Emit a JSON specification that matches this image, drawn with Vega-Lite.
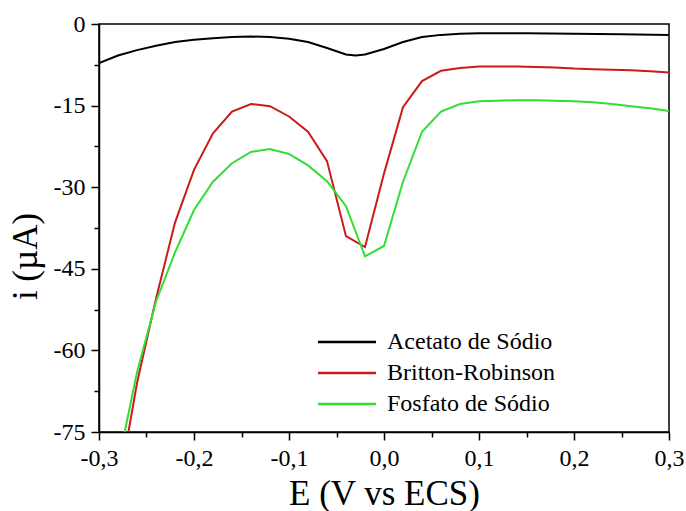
{
  "$schema": "https://vega.github.io/schema/vega-lite/v6.json",
  "width": 570,
  "height": 408,
  "autosize": "none",
  "padding": {"left": 99, "top": 24, "right": 17, "bottom": 79},
  "background": "white",
  "config": {
    "view": {"stroke": "black", "strokeWidth": 1.5},
    "font": "Liberation Serif, Times New Roman, serif",
    "axis": {
      "domainColor": "black",
      "domainWidth": 1.5,
      "tickColor": "black",
      "tickWidth": 1.5,
      "grid": false,
      "labelFont": "Liberation Serif, Times New Roman, serif",
      "labelFontSize": 24,
      "labelColor": "black",
      "titleFont": "Liberation Serif, Times New Roman, serif",
      "titleFontSize": 35,
      "titleFontWeight": "normal",
      "titleColor": "black"
    },
    "legend": {
      "labelFont": "Liberation Serif, Times New Roman, serif"
    }
  },
  "data": {
    "values": [
      {"E": -0.30, "i": -7.2, "s": "Acetato de Sódio"},
      {"E": -0.28, "i": -5.8, "s": "Acetato de Sódio"},
      {"E": -0.26, "i": -4.8, "s": "Acetato de Sódio"},
      {"E": -0.24, "i": -4.0, "s": "Acetato de Sódio"},
      {"E": -0.22, "i": -3.3, "s": "Acetato de Sódio"},
      {"E": -0.20, "i": -2.9, "s": "Acetato de Sódio"},
      {"E": -0.18, "i": -2.6, "s": "Acetato de Sódio"},
      {"E": -0.16, "i": -2.4, "s": "Acetato de Sódio"},
      {"E": -0.14, "i": -2.3, "s": "Acetato de Sódio"},
      {"E": -0.12, "i": -2.4, "s": "Acetato de Sódio"},
      {"E": -0.10, "i": -2.7, "s": "Acetato de Sódio"},
      {"E": -0.08, "i": -3.3, "s": "Acetato de Sódio"},
      {"E": -0.06, "i": -4.4, "s": "Acetato de Sódio"},
      {"E": -0.04, "i": -5.6, "s": "Acetato de Sódio"},
      {"E": -0.03, "i": -5.8, "s": "Acetato de Sódio"},
      {"E": -0.02, "i": -5.6, "s": "Acetato de Sódio"},
      {"E": 0.00, "i": -4.6, "s": "Acetato de Sódio"},
      {"E": 0.02, "i": -3.3, "s": "Acetato de Sódio"},
      {"E": 0.04, "i": -2.4, "s": "Acetato de Sódio"},
      {"E": 0.06, "i": -2.0, "s": "Acetato de Sódio"},
      {"E": 0.08, "i": -1.8, "s": "Acetato de Sódio"},
      {"E": 0.10, "i": -1.7, "s": "Acetato de Sódio"},
      {"E": 0.15, "i": -1.7, "s": "Acetato de Sódio"},
      {"E": 0.20, "i": -1.8, "s": "Acetato de Sódio"},
      {"E": 0.25, "i": -1.9, "s": "Acetato de Sódio"},
      {"E": 0.30, "i": -2.0, "s": "Acetato de Sódio"},
      {"E": -0.28, "i": -86, "s": "Britton-Robinson"},
      {"E": -0.26, "i": -66, "s": "Britton-Robinson"},
      {"E": -0.24, "i": -50.5, "s": "Britton-Robinson"},
      {"E": -0.22, "i": -36.5, "s": "Britton-Robinson"},
      {"E": -0.20, "i": -26.8, "s": "Britton-Robinson"},
      {"E": -0.18, "i": -20.1, "s": "Britton-Robinson"},
      {"E": -0.16, "i": -16.1, "s": "Britton-Robinson"},
      {"E": -0.14, "i": -14.7, "s": "Britton-Robinson"},
      {"E": -0.12, "i": -15.1, "s": "Britton-Robinson"},
      {"E": -0.10, "i": -17.0, "s": "Britton-Robinson"},
      {"E": -0.08, "i": -19.8, "s": "Britton-Robinson"},
      {"E": -0.06, "i": -25.2, "s": "Britton-Robinson"},
      {"E": -0.04, "i": -39.0, "s": "Britton-Robinson"},
      {"E": -0.02, "i": -41.0, "s": "Britton-Robinson"},
      {"E": 0.00, "i": -27.5, "s": "Britton-Robinson"},
      {"E": 0.02, "i": -15.3, "s": "Britton-Robinson"},
      {"E": 0.04, "i": -10.5, "s": "Britton-Robinson"},
      {"E": 0.06, "i": -8.6, "s": "Britton-Robinson"},
      {"E": 0.08, "i": -8.1, "s": "Britton-Robinson"},
      {"E": 0.10, "i": -7.8, "s": "Britton-Robinson"},
      {"E": 0.12, "i": -7.8, "s": "Britton-Robinson"},
      {"E": 0.14, "i": -7.8, "s": "Britton-Robinson"},
      {"E": 0.16, "i": -7.9, "s": "Britton-Robinson"},
      {"E": 0.18, "i": -8.0, "s": "Britton-Robinson"},
      {"E": 0.20, "i": -8.2, "s": "Britton-Robinson"},
      {"E": 0.22, "i": -8.3, "s": "Britton-Robinson"},
      {"E": 0.24, "i": -8.4, "s": "Britton-Robinson"},
      {"E": 0.26, "i": -8.5, "s": "Britton-Robinson"},
      {"E": 0.28, "i": -8.7, "s": "Britton-Robinson"},
      {"E": 0.30, "i": -8.9, "s": "Britton-Robinson"},
      {"E": -0.28, "i": -81, "s": "Fosfato de Sódio"},
      {"E": -0.26, "i": -64, "s": "Fosfato de Sódio"},
      {"E": -0.24, "i": -51, "s": "Fosfato de Sódio"},
      {"E": -0.22, "i": -42, "s": "Fosfato de Sódio"},
      {"E": -0.20, "i": -34.2, "s": "Fosfato de Sódio"},
      {"E": -0.18, "i": -29.0, "s": "Fosfato de Sódio"},
      {"E": -0.16, "i": -25.6, "s": "Fosfato de Sódio"},
      {"E": -0.14, "i": -23.5, "s": "Fosfato de Sódio"},
      {"E": -0.12, "i": -23.0, "s": "Fosfato de Sódio"},
      {"E": -0.10, "i": -23.9, "s": "Fosfato de Sódio"},
      {"E": -0.08, "i": -26.0, "s": "Fosfato de Sódio"},
      {"E": -0.06, "i": -28.9, "s": "Fosfato de Sódio"},
      {"E": -0.04, "i": -33.5, "s": "Fosfato de Sódio"},
      {"E": -0.02, "i": -42.7, "s": "Fosfato de Sódio"},
      {"E": 0.00, "i": -40.8, "s": "Fosfato de Sódio"},
      {"E": 0.02, "i": -29.0, "s": "Fosfato de Sódio"},
      {"E": 0.04, "i": -19.8, "s": "Fosfato de Sódio"},
      {"E": 0.06, "i": -16.1, "s": "Fosfato de Sódio"},
      {"E": 0.08, "i": -14.7, "s": "Fosfato de Sódio"},
      {"E": 0.10, "i": -14.2, "s": "Fosfato de Sódio"},
      {"E": 0.12, "i": -14.1, "s": "Fosfato de Sódio"},
      {"E": 0.14, "i": -14.0, "s": "Fosfato de Sódio"},
      {"E": 0.16, "i": -14.0, "s": "Fosfato de Sódio"},
      {"E": 0.18, "i": -14.1, "s": "Fosfato de Sódio"},
      {"E": 0.20, "i": -14.2, "s": "Fosfato de Sódio"},
      {"E": 0.22, "i": -14.4, "s": "Fosfato de Sódio"},
      {"E": 0.24, "i": -14.7, "s": "Fosfato de Sódio"},
      {"E": 0.26, "i": -15.1, "s": "Fosfato de Sódio"},
      {"E": 0.28, "i": -15.5, "s": "Fosfato de Sódio"},
      {"E": 0.30, "i": -16.0, "s": "Fosfato de Sódio"}
    ]
  },
  "mark": {"type": "line", "strokeWidth": 2, "clip": true},
  "encoding": {
    "x": {
      "field": "E",
      "type": "quantitative",
      "scale": {"domain": [-0.3, 0.3], "nice": false, "zero": false},
      "axis": {
        "title": "E (V vs ECS)",
        "values": [-0.3, -0.25, -0.2, -0.15, -0.1, -0.05, 0, 0.05, 0.1, 0.15, 0.2, 0.25, 0.3],
        "tickSize": {"condition": {"test": "abs(datum.value * 10 - round(datum.value * 10)) < 0.001", "value": 8}, "value": 5},
        "labelExpr": "abs(datum.value * 10 - round(datum.value * 10)) < 0.001 ? (datum.value < -0.001 ? '-' : '') + replace(format(abs(datum.value), '.1f'), '.', ',') : ''",
        "labelPadding": 6,
        "labelFlush": false,
        "titleBaseline": "alphabetic",
        "titleY": 72
      }
    },
    "y": {
      "field": "i",
      "type": "quantitative",
      "scale": {"domain": [-75, 0], "nice": false, "zero": false},
      "axis": {
        "title": "i (µA)",
        "values": [0, -7.5, -15, -22.5, -30, -37.5, -45, -52.5, -60, -67.5, -75],
        "tickSize": {"condition": {"test": "abs(datum.value / 15 - round(datum.value / 15)) < 0.001", "value": 8}, "value": 5},
        "labelExpr": "abs(datum.value / 15 - round(datum.value / 15)) < 0.001 ? (datum.value < 0 ? '-' : '') + format(abs(datum.value), 'd') : ''",
        "labelPadding": 6,
        "labelFlush": false,
        "titleBaseline": "alphabetic",
        "titleX": -63,
        "titleY": 232
      }
    },
    "color": {
      "field": "s",
      "type": "nominal",
      "scale": {
        "domain": ["Acetato de Sódio", "Britton-Robinson", "Fosfato de Sódio"],
        "range": ["#000000", "#cc1a1a", "#33dd33"]
      },
      "legend": {
        "title": null,
        "orient": "none",
        "legendX": 236,
        "legendY": 306,
        "symbolType": "M-3,0H3",
        "symbolSize": 374,
        "symbolStrokeWidth": 2.5,
        "symbolFillColor": "transparent",
        "labelFontSize": 24,
        "labelColor": "black",
        "labelOffset": 28,
        "rowPadding": 7,
        "labelLimit": 300
      }
    }
  }
}
